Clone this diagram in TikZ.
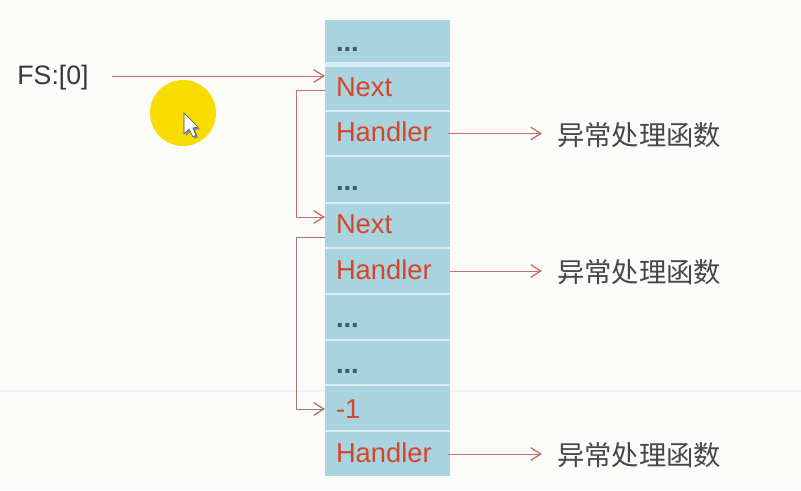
\documentclass[tikz,border=0pt]{standalone}
\usepackage{fontspec}
\setmainfont{Liberation Sans}
\newfontfamily\cjk{Noto Sans CJK SC}
\usetikzlibrary{arrows.meta,positioning}
\definecolor{pagebg}{HTML}{FBFBFA}
\definecolor{cellfill}{HTML}{A9D3DF}
\definecolor{cellgap}{HTML}{D8EEF2}
\definecolor{redtext}{HTML}{D5452A}
\definecolor{dotcol}{HTML}{3F5A68}
\definecolor{linkcol}{HTML}{C4706A}
\definecolor{darklink}{HTML}{A8756F}
\definecolor{spot}{HTML}{F8DC00}
\tikzset{
  cell/.style={fill=cellfill,draw=none,minimum height=#1*0.75pt,inner ysep=0pt,inner xsep=8.25pt,
    text width=77.25pt,align=left,outer sep=0pt,font=\fontsize{20.5pt}{22pt}\selectfont},
  rec/.style={text=redtext,text height=12pt,text depth=0pt},
  dots/.style={text=dotcol,text height=16pt,text depth=0pt,font=\fontsize{20.5pt}{22pt}\selectfont\bfseries},
  link/.style={draw=linkcol,line width=0.75pt,-{Straight Barb[length=7.5pt,width=9.5pt,line width=1pt]}},
  note/.style={font=\cjk\fontsize{20.5pt}{22pt}\selectfont,text=black!72,inner sep=0pt}
}
\begin{document}
\begin{tikzpicture}[x=0.75pt,y=-0.75pt]
\useasboundingbox (0,0) rectangle (801,490);
\fill[pagebg] (0,0) rectangle (801,490);
\fill[black!5] (0,390) rectangle (801,392);
% highlight and pointer
\fill[spot] (183,113) circle[radius=33];
\fill[black!45] (186,115) -- (186,136) -- (191,131) -- (195,139) -- (198,137) -- (195,130) -- (200,129) -- cycle;
\draw[fill=white,draw=black!70,line width=0.5pt] (184,113) -- (184,134) -- (189,129) -- (193,137) -- (196,135) -- (193,128) -- (198,127) -- cycle;
% stack
\fill[cellgap] (325,20) rectangle (450,476);
\node[cell=42,dots] (c0) at (387.5,41) {...};
\node[cell=43,rec] (next1) at (387.5,88.5) {Next};
\node[cell=43,rec] (h1) at (387.5,133.5) {Handler};
\node[cell=45,dots] (c3) at (387.5,179.5) {...};
\node[cell=43,rec] (next2) at (387.5,225.5) {Next};
\node[cell=44,rec] (h2) at (387.5,271) {Handler};
\node[cell=44,dots] (c6) at (387.5,317) {...};
\node[cell=43,dots] (c7) at (387.5,362.5) {...};
\node[cell=44,rec,text height=15pt] (end) at (387.5,408) {-1};
\node[cell=44,rec] (h3) at (387.5,454) {Handler};
% labels
\node[font=\fontsize{20pt}{22pt}\selectfont,text=black!78,minimum width=118*0.75pt,inner sep=0pt,outer sep=0pt] (fs) at (53,78) {FS:[0]};
\node[note,anchor=west] (f1) at (557,135) {异常处理函数};
\node[note,anchor=west] (f2) at (557,272) {异常处理函数};
\node[note,anchor=west] (f3) at (557,455) {异常处理函数};
% named connector ends
\coordinate (start) at ([yshift=2*0.75pt]fs.east);
\coordinate (in1) at ([yshift=13.5*0.75pt]next1.west);
\coordinate (out1) at ([yshift=-1.5*0.75pt]next1.west);
\coordinate (in2) at ([yshift=8.5*0.75pt]next2.west);
\coordinate (out2) at ([yshift=-11.5*0.75pt]next2.west);
\coordinate (in3) at ([yshift=-1*0.75pt]end.west);
\coordinate (t1) at ([xshift=-15*0.75pt]f1.west |- h1.east);
\coordinate (t2) at ([xshift=-15*0.75pt]f2.west |- h2.east);
\coordinate (t3) at ([xshift=-15*0.75pt]f3.west |- h3.east);
% connectors
\draw[link] (start) -- (start -| in1);
\draw[link] (out1) -- ++(-29,0) |- (in2);
\draw[link,draw=darklink] (out2) -- ++(-29,0) |- (in3);
\draw[link] ([xshift=-2*0.75pt]h1.east) -- (t1);
\draw[link] (h2.east) -- (t2);
\draw[link] ([xshift=-2*0.75pt]h3.east) -- (t3);
\end{tikzpicture}
\end{document}
